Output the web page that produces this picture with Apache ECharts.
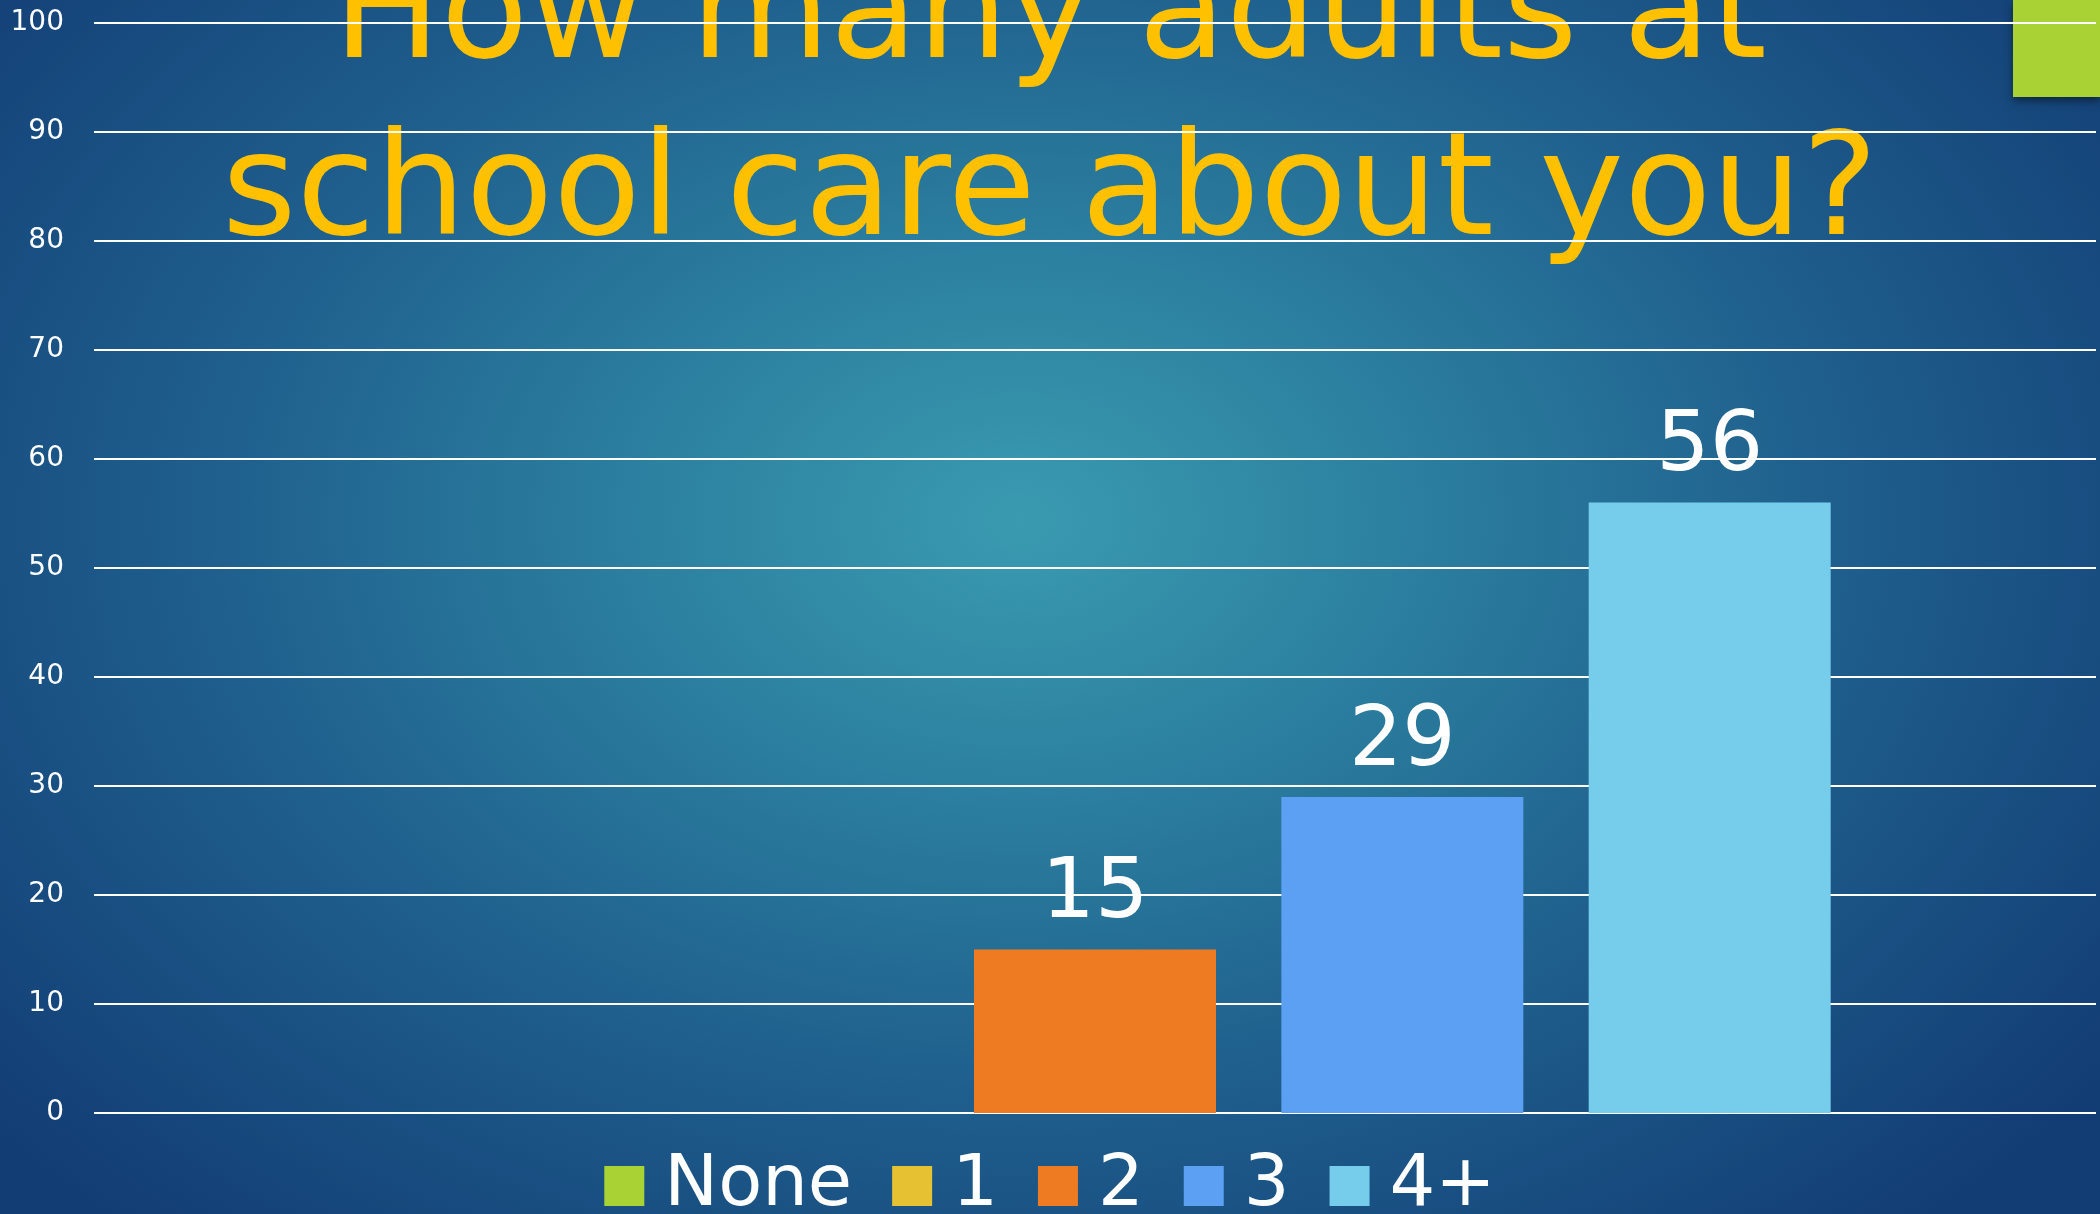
<!DOCTYPE html>
<html>
<head>
<meta charset="utf-8">
<title>How many adults at school care about you?</title>
<script src="https://cdn.jsdelivr.net/npm/echarts@6/dist/echarts.min.js"></script>
<style>
html,body{margin:0;padding:0;width:100%;height:100%;overflow:hidden;}
#chartContainer{
	width:2100px;height:1214px;
	background:radial-gradient(ellipse 1350px 950px at 1020px 520px,#3a9bb0 0%,#2b7e9f 30%,#1e5d8c 62%,#123c74 100%);
}
</style>
</head>
<body>
<div id="chartContainer"></div>
<script>
var myChart;//global so resize can redraw

// data
var categories=['None','1','2','3','4+'];
var values=[0,0,15,29,56];
var barColors=['#a9d334','#e6c232','#ee7b22','#5ba0f2','#76cdeb'];
var titleText='How many adults at\nschool care about you?';
var fontName='"DejaVu Sans", sans-serif';

showAdultsCount();
window.addEventListener("resize",function(){
	myChart.resize();
});

/**
 * one bar series per answer, all in one category
 */
function showAdultsCount(){
	var dom=document.getElementById("chartContainer");
	myChart=echarts.init(dom);
	var series=[];
	categories.forEach(function(name,index){
		series.push({
			type:'bar',
			name:name,
			data:[values[index]],
			barWidth:242,
			barGap:'27%',
			itemStyle:{color:barColors[index]},
			label:{
				show:true,
				position:'top',
				distance:12,
				color:'#ffffff',
				fontFamily:fontName,
				fontSize:84,
				formatter:function(p){return p.value?p.value:'';}
			}
		});
	});
	var option={
		backgroundColor:'transparent',
		animation:false,
		textStyle:{fontFamily:fontName},
		title:{
			text:titleText,
			left:'center',
			top:-74,
			z:0,
			textStyle:{
				color:'#ffc000',
				fontFamily:fontName,
				fontWeight:'normal',
				fontSize:143,
				lineHeight:177
			}
		},
		legend:{
			data:categories,
			top:1145,
			left:'center',
			icon:'rect',
			itemWidth:40,
			itemHeight:40,
			itemGap:40,
			textStyle:{color:'#ffffff',fontSize:72,fontFamily:fontName,padding:[0,0,0,15]}
		},
		grid:{left:94,right:4,top:23,bottom:101,containLabel:false},
		xAxis:{
			type:'category',
			data:[''],
			axisLine:{show:false},
			axisTick:{show:false},
			axisLabel:{show:false}
		},
		yAxis:{
			type:'value',
			min:0,
			max:100,
			interval:10,
			z:1,
			axisLine:{show:false},
			axisTick:{show:false},
			axisLabel:{color:'#ffffff',fontSize:28,margin:30,fontFamily:fontName},
			splitLine:{lineStyle:{color:'#ffffff',width:2}}
		},
		graphic:[{
			type:'rect',
			right:0,
			top:0,
			shape:{width:87,height:97},
			style:{fill:'#a9d334',shadowBlur:8,shadowOffsetY:4,shadowColor:'rgba(0,0,0,0.45)'}
		}],
		series:series
	};
	myChart.setOption(option,true);
}
</script>
</body>
</html>
